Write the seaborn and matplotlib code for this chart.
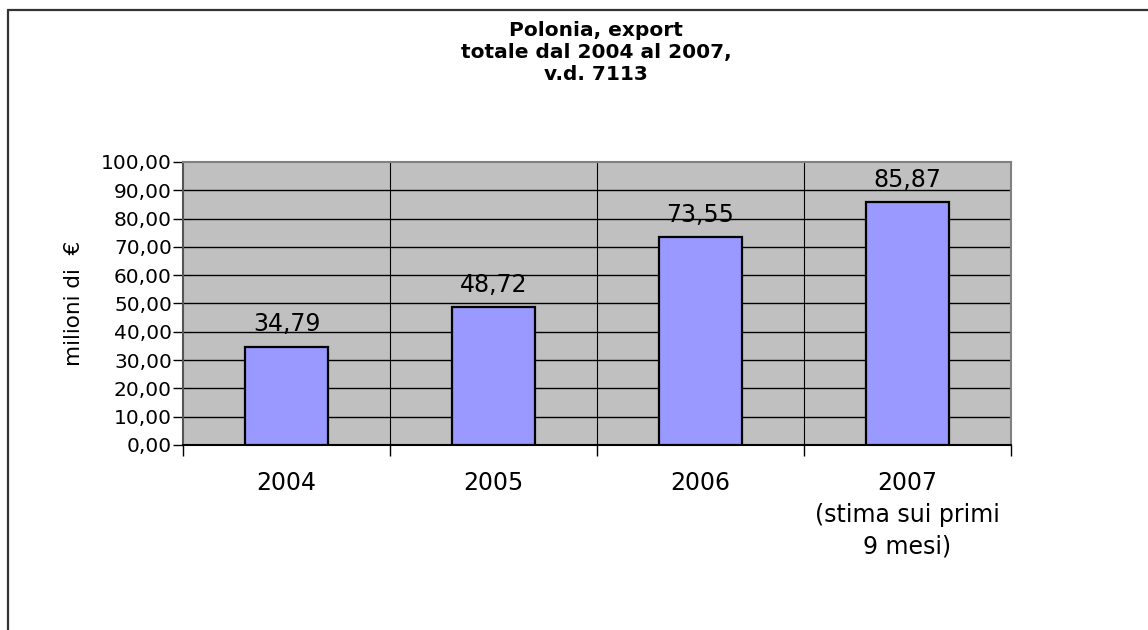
import matplotlib
matplotlib.use('Agg')
import matplotlib.pyplot as plt
from matplotlib.lines import Line2D
import seaborn as sns
import pandas as pd

sns.set_theme(style='white')
plt.rcParams['font.family'] = ['DejaVu Sans']
plt.rcParams['text.color'] = 'black'
plt.rcParams['xtick.color'] = 'black'
plt.rcParams['ytick.color'] = 'black'
plt.rcParams['axes.labelcolor'] = 'black'

# dati
anni = ['2004', '2005', '2006', '2007\n(stima sui primi\n9 mesi)']
export_mln = [34.79, 48.72, 73.55, 85.87]
df = pd.DataFrame({'anno': anni, 'export': export_mln})

fig = plt.figure(figsize=(11.48, 6.3), dpi=100)
ax = fig.add_axes([0.1594, 0.2937, 0.7213, 0.4492])
ax.set_facecolor('#C0C0C0')

sns.barplot(data=df, x='anno', y='export', color='#9999FF', width=0.4,
            edgecolor='black', linewidth=1.6, saturation=1, ax=ax, zorder=3)

ax.set_ylim(0, 100)
ax.set_xlim(-0.5, len(anni) - 0.5)
ax.set_yticks(range(0, 101, 10))
ax.yaxis.set_major_formatter(plt.FuncFormatter(lambda v, _: f'{v:.2f}'.replace('.', ',')))
ax.grid(False)
for v in range(10, 100, 10):
    ax.axhline(v, color='black', linewidth=1.0, zorder=1)
for b in range(1, len(anni)):
    ax.axvline(b - 0.5, color='black', linewidth=0.8, zorder=1)

# tick sulle separazioni delle categorie
ax.set_xticks([i - 0.5 for i in range(len(anni) + 1)], minor=True)
ax.tick_params(axis='x', which='major', length=0, pad=19, labelsize=17)
ax.tick_params(axis='x', which='minor', bottom=True, length=8, width=1, color='black', direction='out')
ax.tick_params(axis='y', length=7, width=1, direction='out', labelsize=14.5, pad=1, left=True)
for lab in ax.get_xticklabels():
    lab.set_linespacing(1.4)
    lab.set_va('top')
ax.set_xlabel('')
ax.set_ylabel('milioni di  €', fontsize=15.5, labelpad=12)

for s in ax.spines.values():
    s.set_color('#808080')
    s.set_linewidth(1.5)
ax.spines['bottom'].set_color('black')
ax.spines['left'].set_color('#555555')

for i, v in enumerate(export_mln):
    ax.annotate(f'{v:.2f}'.replace('.', ','), (i, v), xytext=(0, 11), textcoords='offset points',
                ha='center', va='baseline', fontsize=17)

fig.text(0.5195, 0.966, 'Polonia, export\ntotale dal 2004 al 2007,\nv.d. 7113', ha='center', va='top',
         fontsize=14.5, fontweight='bold', linespacing=1.2)

# cornice del grafico
fig.add_artist(Line2D([8 / 1148, 1.0], [1 - 10 / 630, 1 - 10 / 630], transform=fig.transFigure,
                      color='#333333', linewidth=1.6))
fig.add_artist(Line2D([8 / 1148, 8 / 1148], [0.0, 1 - 10 / 630], transform=fig.transFigure,
                      color='#333333', linewidth=1.6))

fig.savefig('out.png', dpi=100, facecolor='white')
